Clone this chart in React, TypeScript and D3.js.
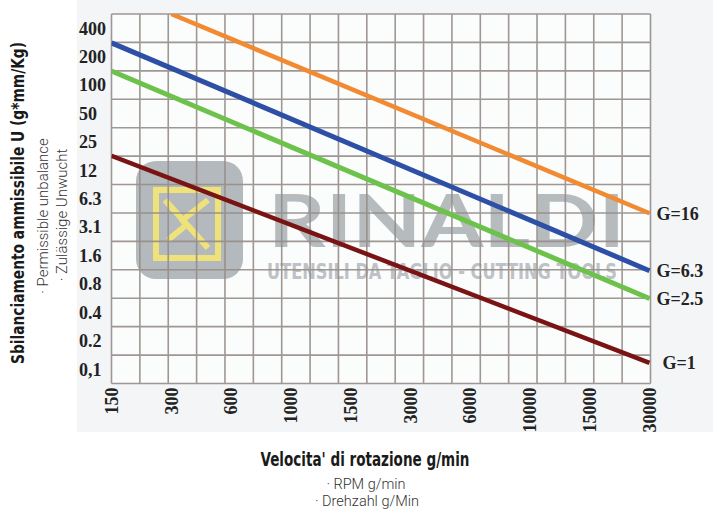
import React from 'react';
import * as d3 from 'd3';

// rotation speed (g/min) tick labels, evenly spaced on the chart
const rpmLabels = ['150', '300', '600', '1000', '1500', '3000', '6000', '10000', '15000', '30000'];
// permissible unbalance tick labels (top to bottom)
const uLabels = ['400', '200', '100', '50', '25', '12', '6.3', '3.1', '1.6', '0.8', '0.4', '0.2', '0,1'];

// balance grade lines: [rpm label, U value]
const g16 = [{ rpm: '300', u: 565 }, { rpm: '30000', u: 4.45 }];
const g63 = [{ rpm: '150', u: 280 }, { rpm: '30000', u: 1.1 }];
const g25 = [{ rpm: '150', u: 141 }, { rpm: '30000', u: 0.56 }];
const g1 = [{ rpm: '150', u: 18 }, { rpm: '30000', u: 0.117 }];

const seriesNames = ['G=16', 'G=6.3', 'G=2.5', 'G=1'];

const W = 713;
const H = 509;
const plot = { left: 111.5, right: 650.5, top: 14, bottom: 383.5 };
const gridCols = 19;

const serif = '"Liberation Serif", "Times New Roman", serif';
const narrow = '"Liberation Sans Narrow", "DejaVu Sans Condensed", sans-serif';
const light = 'Roboto, "Open Sans", sans-serif';

const App: React.FC = () => {
  const x = d3.scalePoint<string>().domain(rpmLabels).range([plot.left, plot.right - 1]);
  const yBand = d3.scaleBand<string>().domain(uLabels).range([plot.top, plot.bottom]);
  const bw = yBand.bandwidth();
  const y = d3
    .scaleLog()
    .domain([0.1, 400])
    .range([yBand('0,1')! + bw / 2, yBand('400')! + bw / 2]);
  const xGrid = d3.scaleLinear().domain([0, gridCols]).range([plot.left, plot.right]);

  const line = d3
    .line<{ rpm: string; u: number }>()
    .x((d) => x(d.rpm)!)
    .y((d) => y(d.u));

  const series = [
    { name: seriesNames[0], data: g16, color: '#f28a32', width: 4.5, dx: 6 },
    { name: seriesNames[1], data: g63, color: '#2e4fa6', width: 5, dx: 6 },
    { name: seriesNames[2], data: g25, color: '#6cc24a', width: 5, dx: 6 },
    { name: seriesNames[3], data: g1, color: '#7a1414', width: 4.5, dx: 12 },
  ];

  const hLines = uLabels.map((l) => yBand(l)!).concat([plot.bottom]);
  const vLines = d3.range(gridCols + 1).map((i) => xGrid(i));

  return (
    <svg
      width={W}
      height={H}
      style={{ position: 'absolute', left: 0, top: 0, background: '#fff' }}
    >
      <defs>
        <clipPath id="plotClip">
          <rect x={plot.left} y={plot.top} width={plot.right - plot.left} height={plot.bottom - plot.top} />
        </clipPath>
      </defs>
      {/* scanned background patch */}
      <rect x={77} y={0} width={W - 77} height={432} fill="#f3f5f7" />
      <rect
        x={plot.left}
        y={plot.top}
        width={plot.right - plot.left}
        height={plot.bottom - plot.top}
        fill="#fbfcfc"
      />

      {/* watermark */}
      <g>
        <rect x={136} y={161} width={107} height={118} rx={20} fill="#a2a8ad" opacity={0.8} />
        <rect x={156} y={190} width={62} height={68} fill="none" stroke="#efe27a" strokeWidth={6} />
        <path d="M165,200 L208,248 M208,200 L180,222 M168,240 L185,226" stroke="#efe27a" strokeWidth={6} fill="none" />
        <text
          x={268}
          y={247}
          fontFamily="Lato, sans-serif"
          fontWeight={700}
          fontSize={72}
          textLength={357}
          lengthAdjust="spacingAndGlyphs"
          fill="#abb0b4"
          opacity={0.85}
        >
          RINALDI
        </text>
        <text
          x={267}
          y={279}
          fontFamily={narrow}
          fontWeight={700}
          fontSize={22}
          textLength={350}
          lengthAdjust="spacingAndGlyphs"
          fill="#bec2c6"
        >
          UTENSILI DA TAGLIO - CUTTING TOOLS
        </text>
      </g>

      {/* grid */}
      <g stroke="#958d88" strokeWidth={1.6} opacity={0.9}>
        {hLines.map((yy, i) => (
          <line key={'h' + i} x1={plot.left} x2={plot.right} y1={yy} y2={yy} />
        ))}
        {vLines.map((xx, i) => (
          <line key={'v' + i} x1={xx} x2={xx} y1={plot.top} y2={plot.bottom} />
        ))}
      </g>

      {/* y tick labels */}
      <g fontFamily={serif} fontWeight={700} fontSize={18} fill="#222">
        {uLabels.map((l) => (
          <text key={l} x={79} y={yBand(l)! + bw / 2} dy="0.35em">
            {l}
          </text>
        ))}
      </g>

      {/* x tick labels */}
      <g fontFamily={serif} fontWeight={700} fontSize={18} fill="#222">
        {rpmLabels.map((l) => (
          <text
            key={l}
            transform={`translate(${x(l)},${plot.bottom + 4}) rotate(-90)`}
            textAnchor="end"
            dy="0.35em"
          >
            {l}
          </text>
        ))}
      </g>

      {/* grade lines */}
      <g clipPath="url(#plotClip)">
        {series.map((s) => (
          <path key={s.name} d={line(s.data)!} fill="none" stroke={s.color} strokeWidth={s.width} />
        ))}
      </g>
      <g fontFamily={serif} fontWeight={700} fontSize={18} fill="#222">
        {series.map((s) => {
          const last = s.data[s.data.length - 1];
          return (
            <text key={s.name} x={plot.right + s.dx} y={y(last.u)} dy="0.35em">
              {s.name}
            </text>
          );
        })}
      </g>

      {/* axis titles */}
      <text
        transform="translate(18,203) rotate(-90)"
        textAnchor="middle"
        dy="0.35em"
        fontFamily={narrow}
        fontWeight={700}
        fontSize={18}
        textLength={322}
        lengthAdjust="spacingAndGlyphs"
        fill="#1a1a1a"
      >
        Sbilanciamento ammissibile U (g*mm/Kg)
      </text>
      <g fontFamily={light} fontWeight={300} fontSize={15} fill="#333" textAnchor="middle">
        <text transform="translate(43,216) rotate(-90)" dy="0.35em">
          · Permissible unbalance
        </text>
        <text transform="translate(62,215) rotate(-90)" dy="0.35em">
          · Zulässige Unwucht
        </text>
      </g>
      <text
        x={365}
        y={466}
        textAnchor="middle"
        fontFamily={narrow}
        fontWeight={700}
        fontSize={20}
        textLength={209}
        lengthAdjust="spacingAndGlyphs"
        fill="#1a1a1a"
      >
        Velocita' di rotazione g/min
      </text>
      <g fontFamily={light} fontWeight={300} fontSize={14.5} fill="#333" textAnchor="middle">
        <text x={366} y={489}>
          · RPM g/min
        </text>
        <text x={367} y={506}>
          · Drehzahl g/Min
        </text>
      </g>
    </svg>
  );
};

export default App;
